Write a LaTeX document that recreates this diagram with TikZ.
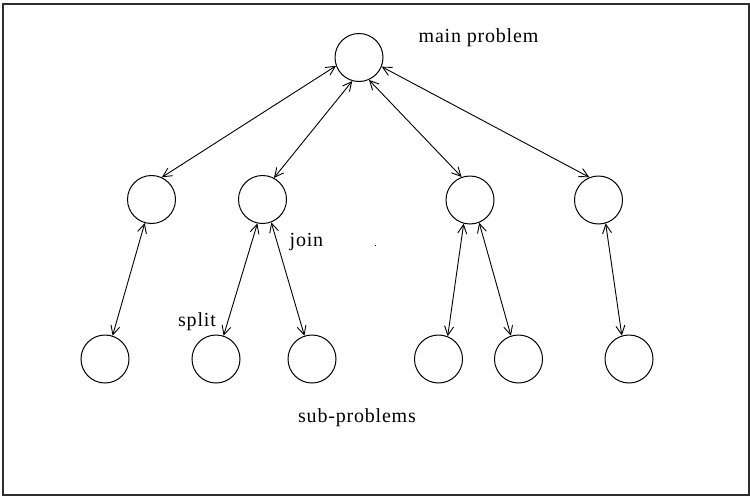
\documentclass[tikz,border=0pt]{standalone}
\usepackage{fontspec}
\setmainfont{Liberation Serif}
\usetikzlibrary{arrows.meta}
\begin{document}
\begin{tikzpicture}[x=1pt,y=-1pt,
  prob/.style={circle,draw,line width=1pt,minimum size=48pt,inner sep=0pt},
  link/.style={line width=0.9pt,
    {Straight Barb[length=9pt,width=9pt]}-{Straight Barb[length=9pt,width=9pt]}},
  lbl/.style={font=\fontsize{20}{24}\selectfont\addfontfeature{LetterSpace=4},
    inner sep=0pt,anchor=base}]
\useasboundingbox (0,0) rectangle (750,498);
\fill[white] (0,0) rectangle (750,498);
% outer frame
\draw[line width=2pt,black!82] (2.5,4) rectangle (748.5,494.5);

% the problem tree
\node[prob] (main) at (359,57.5) {};
\node[prob] (a) at (151.5,199.5) {};
\node[prob] (b) at (262.5,199.5) {};
\node[prob] (c) at (470,200) {};
\node[prob] (d) at (598.5,200) {};
\node[prob] (a1) at (105,359) {};
\node[prob] (b1) at (216,359) {};
\node[prob] (b2) at (312,359) {};
\node[prob] (c1) at (438.5,359) {};
\node[prob] (c2) at (518.5,359) {};
\node[prob] (d1) at (629,359) {};

% two-way links
\draw[link] (main.200) -- (a.65);
\draw[link] (main.254) -- (b.62);
\draw[link] (main.294) -- (c.110);
\draw[link] (main.338) -- (d.112);
\draw[link] (a.254) -- (a1.72);
\draw[link] (b.258) -- (b1.72);
\draw[link] (b.291) -- (b2.108);
\draw[link] (c.255) -- (c1.68);
\draw[link] (c.292) -- (c2.108);
\draw[link] (d.287) -- (d1.107);

% labels
\node[lbl] (tmain) at (478.5,42) {main problem};
\node[lbl] (tjoin) at (306.5,246) {join};
\node[lbl] (tsplit) at (197,326.5) {split};
\node[lbl] (tsub) at (357,422) {sub-problems};

% stray speck
\fill (374.5,244.5) rectangle (376,246);
\end{tikzpicture}
\end{document}
